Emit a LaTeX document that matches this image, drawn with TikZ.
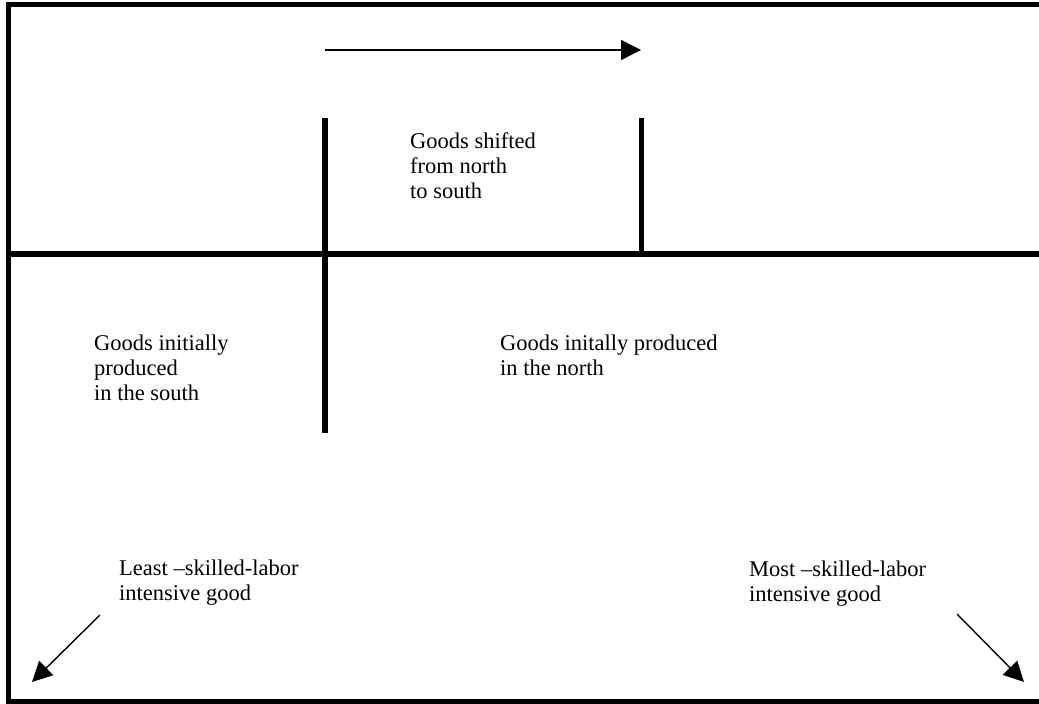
\documentclass[tikz,border=0pt]{standalone}
\usepackage{fontspec}
\setmainfont{Liberation Serif}
\usetikzlibrary{arrows.meta}

\begin{document}
\begin{tikzpicture}[x=1pt, y=-1pt,
	thickline/.style={line width=5.5pt, line cap=rect},
	thinarrow/.style={line width=1.4pt, -{Triangle[length=20pt, width=20pt]}},
	label/.style={anchor=base west, inner sep=0pt, align=left, font=\fontsize{22.5pt}{25pt}\selectfont}]
\useasboundingbox (0,0) rectangle (1039,704);
% frame and dividers
\coordinate (tl) at (8.5,4.5);
\coordinate (tr) at (1039,4.5);
\coordinate (bl) at (8.5,701.5);
\coordinate (br) at (1039,701.5);
\coordinate (ml) at (8.5,254);
\coordinate (mr) at (1039,254);
\coordinate (vla) at (325,118);
\coordinate (vlb) at (325,433);
\coordinate (vra) at (641.5,118);
\coordinate (vrb) at (641.5,254);
\draw[thickline] (tr) -- (tl) -- (bl) -- (br);
\draw[thickline] (ml) -- (mr);
\draw[thickline, line cap=butt] (vla) -- (vlb);
\draw[thickline, line cap=butt] (vra) -- (vrb);
% texts (placed at the baseline of their last line)
\node[label] (shift) at (410,198) {Goods shifted\\from north\\to south};
\node[label] (south) at (94,400) {Goods initially\\produced\\in the south};
\node[label] (north) at (500,375) {Goods initally produced\\in the north};
\node[label] (least) at (119,600) {Least –skilled-labor\\intensive good};
\node[label] (most) at (749,601) {Most –skilled-labor\\intensive good};
% arrows
\coordinate (sa) at (325,50);
\coordinate (sb) at (641,50);
\coordinate (la) at (100,615);
\coordinate (lb) at (32,682);
\coordinate (ra) at (957,614);
\coordinate (rb) at (1024,682);
\draw[thinarrow] (sa) -- (sb);
\draw[thinarrow] (la) -- (lb);
\draw[thinarrow] (ra) -- (rb);
\end{tikzpicture}
\end{document}
